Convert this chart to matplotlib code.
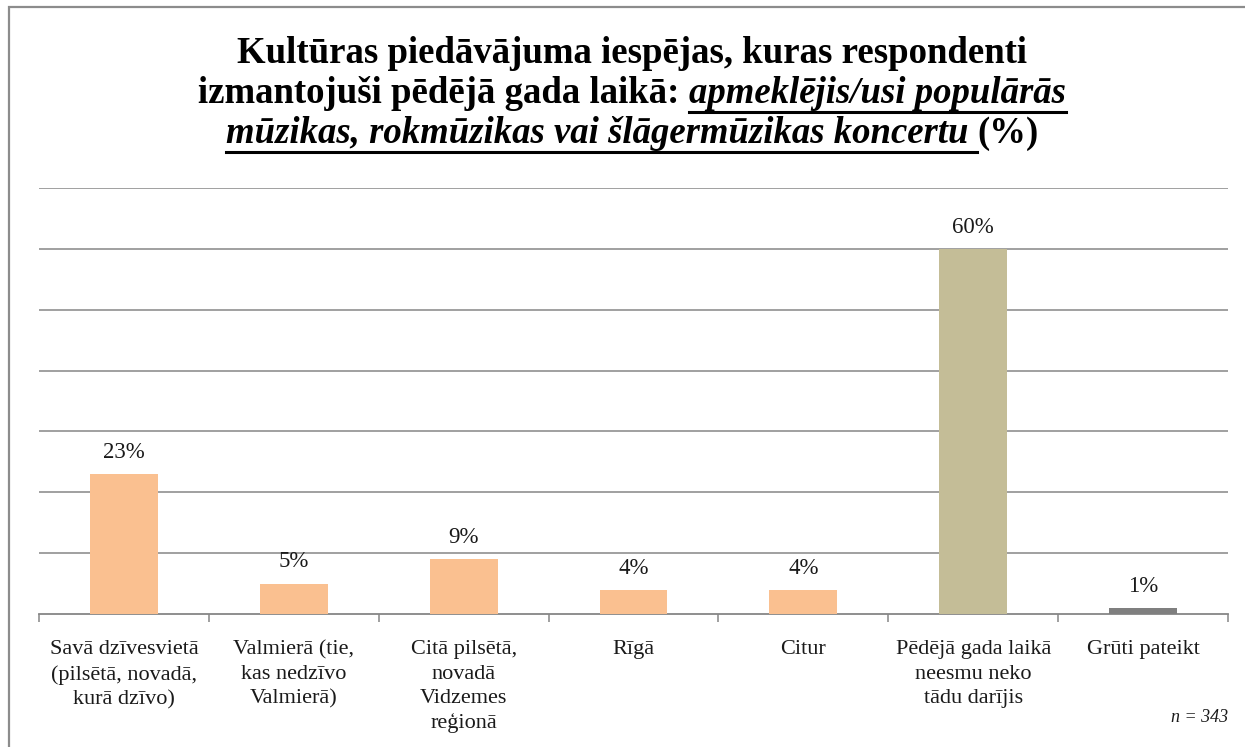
import matplotlib
matplotlib.use("Agg")
import matplotlib.pyplot as plt
from matplotlib.patches import Rectangle
from matplotlib.lines import Line2D
import numpy as np

categories = [
    "Savā dzīvesvietā\n(pilsētā, novadā,\nkurā dzīvo)",
    "Valmierā (tie,\nkas nedzīvo\nValmierā)",
    "Citā pilsētā,\nnovadā\nVidzemes\nreģionā",
    "Rīgā",
    "Citur",
    "Pēdējā gada laikā\nneesmu neko\ntādu darījis",
    "Grūti pateikt",
]
values = [23, 5, 9, 4, 4, 60, 1]
colors = ["#FAC090", "#FAC090", "#FAC090", "#FAC090", "#FAC090", "#C4BD97", "#7F7F7F"]

title_lines = [
    [("Kultūras piedāvājuma iespējas, kuras respondenti", "normal", False)],
    [("izmantojuši pēdējā gada laikā: ", "normal", False),
     ("apmeklējis/usi populārās", "italic", True)],
    [("mūzikas, rokmūzikas vai šlāgermūzikas koncertu ", "italic", True),
     ("(%)", "normal", False)],
]

plt.rcParams["font.family"] = ["Liberation Serif", "DejaVu Serif"]
grid_col = "#868686"

fig = plt.figure(figsize=(12.45, 7.47), dpi=100)
ax = fig.add_axes([39 / 1245, 1 - 614 / 747, (1228 - 39) / 1245, (614 - 188) / 747])

x = np.arange(len(categories))
ax.bar(x, values, width=0.4, color=colors, zorder=3)
for xi, v in zip(x, values):
    ax.annotate(f"{v}%", (xi, v), xytext=(0, 8), textcoords="offset points",
                ha="center", va="bottom", fontsize=16.5, color="#1a1a1a")

ax.set_xlim(-0.5, len(categories) - 0.5)
ax.set_ylim(0, 70)
ax.set_yticks(np.arange(10, 71, 10))
ax.yaxis.grid(True, color=grid_col, lw=1.1, zorder=0)
ax.tick_params(axis="y", left=False, labelleft=False)
ax.set_xticks(x)
ax.set_xticklabels(categories, fontsize=16, color="#1a1a1a")
for lbl in ax.get_xticklabels():
    lbl.set_linespacing(1.38)
ax.tick_params(axis="x", length=0, pad=19)
ax.set_xticks(np.arange(-0.5, len(categories), 1), minor=True)
ax.tick_params(axis="x", which="minor", length=6, width=1.1, color=grid_col)
for s in ["top", "right", "left"]:
    ax.spines[s].set_visible(False)
ax.spines["bottom"].set_color(grid_col)
ax.spines["bottom"].set_linewidth(1.3)

# outer border
fig.patches.append(Rectangle((8.5 / 1245, -0.1), 1.2, 1 - 7 / 747 + 0.1,
                             transform=fig.transFigure, fill=False,
                             edgecolor="#8c8c8c", lw=1.6))

# title with mixed styles
renderer = fig.canvas.get_renderer()
fs = 26.5
baselines = [63, 103, 143]
for parts, ypx in zip(title_lines, baselines):
    texts = []
    widths = []
    for s, style, ul in parts:
        t = fig.text(0, 1 - ypx / 747, s, fontsize=fs, fontweight="bold",
                     fontstyle=style, va="baseline", ha="left", color="black")
        bb = t.get_window_extent(renderer)
        texts.append((t, ul))
        widths.append(bb.width)
    total = sum(widths)
    cur = 632 - total / 2
    for (t, ul), w in zip(texts, widths):
        t.set_x(cur / 1245)
        if ul:
            uy = 1 - (ypx + 9) / 747
            fig.add_artist(Line2D([cur / 1245, (cur + w) / 1245], [uy, uy],
                                  transform=fig.transFigure, color="black", lw=2.2))
        cur += w

fig.text(1228 / 1245, 1 - 718 / 747, "n = 343", fontsize=13, fontstyle="italic",
         ha="right", va="center", color="#1a1a1a")

fig.savefig("out.png", dpi=100)
